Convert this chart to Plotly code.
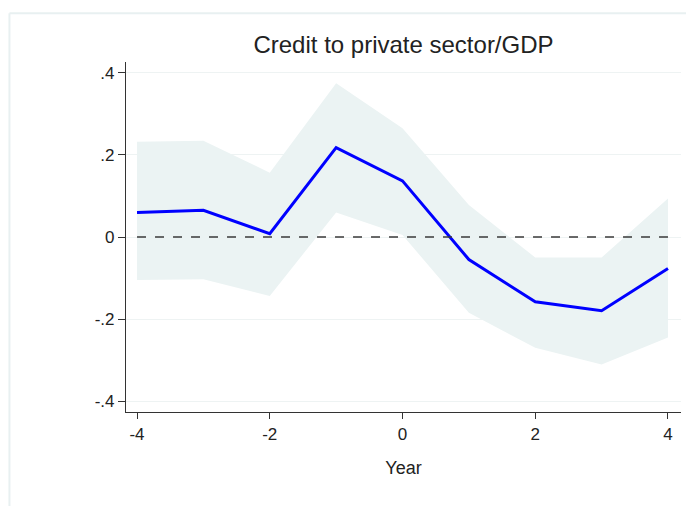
import plotly.graph_objects as go

# Event-study estimates: credit to private sector / GDP
years = [-4, -3, -2, -1, 0, 1, 2, 3, 4]
estimate = [0.060, 0.065, 0.008, 0.218, 0.137, -0.055, -0.158, -0.180, -0.077]
ci_upper = [0.232, 0.235, 0.157, 0.375, 0.265, 0.078, -0.050, -0.050, 0.094]
ci_lower = [-0.105, -0.103, -0.144, 0.060, 0.005, -0.185, -0.270, -0.311, -0.245]

y_tick_vals = [-0.4, -0.2, 0, 0.2, 0.4]
y_tick_text = ["-.4", "-.2", "0", ".2", ".4"]
x_tick_vals = [-4, -2, 0, 2, 4]
x_tick_text = ["-4", "-2", "0", "2", "4"]

FONT = "Liberation Sans, Arial, sans-serif"
BAND = "#ebf3f3"

fig = go.Figure()

# Confidence band
fig.add_trace(go.Scatter(
    x=years + years[::-1],
    y=ci_upper + ci_lower[::-1],
    fill="toself", fillcolor=BAND, mode="none",
    hoverinfo="skip", showlegend=False,
))

# Point estimates
fig.add_trace(go.Scatter(
    x=years, y=estimate, mode="lines",
    line=dict(color="#0000ff", width=3),
    showlegend=False,
))

# Zero reference line
fig.add_shape(type="line", xref="x", yref="y",
              x0=years[0], x1=years[-1], y0=0, y1=0,
              line=dict(color="#3a3a3a", width=1.6, dash="dash"))

# Outer frame of the graph region
fig.add_shape(type="line", xref="paper", yref="paper",
              x0=-0.210, x1=1.01, y0=1.139, y1=1.139,
              line=dict(color="#e8f0f1", width=2))
fig.add_shape(type="line", xref="paper", yref="paper",
              x0=-0.210, x1=-0.210, y0=1.139, y1=-0.27,
              line=dict(color="#e8f0f1", width=2))

fig.update_layout(
    width=686, height=506,
    margin=dict(l=126, r=5, t=62, b=94),
    paper_bgcolor="white", plot_bgcolor="white",
    font=dict(family=FONT, color="#222222"),
    title=dict(text="Credit to private sector/GDP", x=0.5, xref="paper",
               y=1 - 45 / 506, yanchor="middle",
               font=dict(size=24, color="#222222")),
    xaxis=dict(
        range=[-4.166, 4.196], tickvals=x_tick_vals, ticktext=x_tick_text,
        showgrid=False, zeroline=False,
        showline=True, linecolor="#333333", linewidth=1.2,
        ticks="outside", ticklen=6, tickcolor="#333333", tickwidth=1.2,
        tickfont=dict(size=17),
        title=dict(text="Year", font=dict(size=18), standoff=18),
    ),
    yaxis=dict(
        range=[-0.4268, 0.4268], tickvals=y_tick_vals, ticktext=y_tick_text,
        showgrid=True, gridcolor="#eef3f3", gridwidth=1, zeroline=False,
        showline=True, linecolor="#333333", linewidth=1.2,
        ticks="outside", ticklen=7, tickcolor="#333333", tickwidth=1.2,
        tickfont=dict(size=17),
    ),
)

fig.write_html("out.html")
